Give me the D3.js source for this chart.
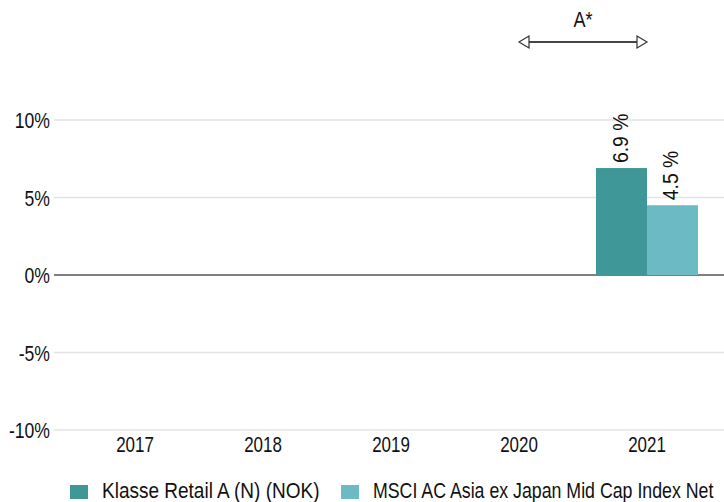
<!DOCTYPE html>
<html><head><meta charset="utf-8">
<script src="https://cdn.jsdelivr.net/npm/d3@7"></script>
<style>body{margin:0;background:#fff}svg{display:block;font-family:"Liberation Sans",Arial,sans-serif}</style>
</head><body><svg id="c" width="724" height="502"></svg>
<script>
const categories = ["2017","2018","2019","2020","2021"];
const seriesNames = ["Klasse Retail A (N) (NOK)","MSCI AC Asia ex Japan Mid Cap Index Net"];
const fundValues = [null,null,null,null,6.9];
const indexValues = [null,null,null,null,4.5];
const yTicks = [-10,-5,0,5,10];
const colors = ["#409797","#6cbac4"];
const periodLabel = "A*";
const periodRange = ["2020","2021"];

const FS = 22;
const svg = d3.select("#c");
const left = 54, right = 724;
const y = d3.scaleLinear().domain([-10,10]).range([430,120]);
const x = d3.scaleBand().domain(categories).range([71,711]);
const inner = d3.scaleBand().domain([0,1]).range([0,x.bandwidth()]).paddingOuter(0.255);

function txt(g, px, py, s, anchor, sx, rot){
  return g.append("text")
    .attr("transform",`translate(${px},${py})${rot?` rotate(${rot})`:""} scale(${sx},1)`)
    .attr("text-anchor",anchor||"start").attr("font-size",FS).attr("fill","#111").text(s);
}

// gridlines
svg.append("g").selectAll("line").data(yTicks).join("line")
  .attr("x1",left).attr("x2",right).attr("y1",d=>y(d)).attr("y2",d=>y(d))
  .attr("stroke",d=>d===0?"#000":"#e3e3e3").attr("stroke-width",d=>d===0?1.2:1.5);

// y labels
const gy = svg.append("g");
yTicks.forEach(d=>txt(gy, 50, y(d)+8, d+"%", "end", 0.8));

// x labels
const gx = svg.append("g");
categories.forEach(c=>txt(gx, x(c)+x.bandwidth()/2, 452, c, "middle", 0.77));

// bars
const series = [fundValues, indexValues];
series.forEach((vals,si)=>{
  const data = categories.map((c,i)=>({c,v:vals[i]})).filter(d=>d.v!=null);
  svg.append("g").selectAll("rect").data(data).join("rect")
    .attr("x",d=>x(d.c)+inner(si)).attr("width",inner.bandwidth())
    .attr("y",d=>y(Math.max(0,d.v))).attr("height",d=>Math.abs(y(d.v)-y(0)))
    .attr("fill",colors[si]);
  const gl = svg.append("g");
  data.forEach(d=>txt(gl, x(d.c)+inner(si)+inner.bandwidth()/2+6, y(d.v)-5, d.v.toFixed(1)+" %", "start", 0.88, -90));
});

// period arrow
const ax1 = x(periodRange[0])+x.bandwidth()/2, ax2 = x(periodRange[1])+x.bandwidth()/2, ay = 42;
svg.append("line").attr("x1",ax1+10).attr("x2",ax2-10).attr("y1",ay).attr("y2",ay)
  .attr("stroke","#444").attr("stroke-width",2);
svg.append("path").attr("d",`M${ax1},${ay}L${ax1+10},${ay-6}L${ax1+10},${ay+6}Z`)
  .attr("fill","#fff").attr("stroke","#333").attr("stroke-width",1.2);
svg.append("path").attr("d",`M${ax2},${ay}L${ax2-10},${ay-6}L${ax2-10},${ay+6}Z`)
  .attr("fill","#fff").attr("stroke","#333").attr("stroke-width",1.2);
txt(svg, (ax1+ax2)/2, 27, periodLabel, "middle", 0.82);

// legend
const lg = svg.append("g");
const lx = [70, 341];
const lsx = [0.864, 0.807];
seriesNames.forEach((n,i)=>{
  lg.append("rect").attr("x",lx[i]).attr("y",485).attr("width",18).attr("height",14).attr("fill",colors[i]);
  txt(lg, lx[i]+32, 498, n, "start", lsx[i]);
});
</script></body></html>
